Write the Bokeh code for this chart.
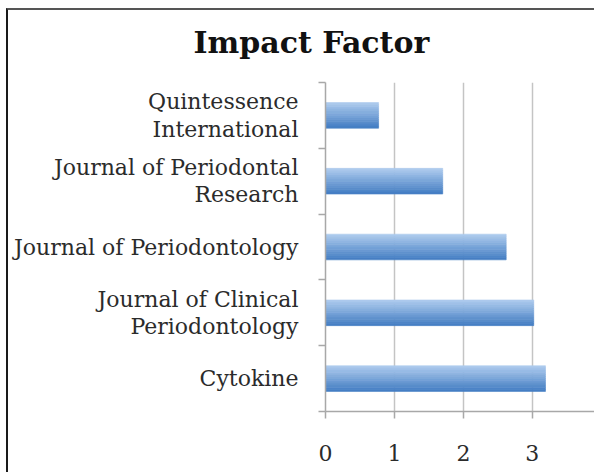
from bokeh.plotting import figure
from bokeh.models import FixedTicker, Range1d, Title
from bokeh.embed import file_html
from bokeh.resources import INLINE

# ---- data (bottom to top) ----
journals = ["Cytokine",
            "Journal of Clinical\nPeriodontology",
            "Journal of Periodontology",
            "Journal of Periodontal\nResearch",
            "Quintessence\nInternational"]
impact = [3.19, 3.02, 2.62, 1.70, 0.77]
x_ticks = [0, 1, 2, 3, 4]
title_text = "Impact Factor"

# ---- styles ----
FONT = "DejaVu Serif"
TXT = "#2b2b2b"

positions = [i + 0.5 for i in range(len(journals))]
boundaries = list(range(len(journals) + 1))

p = figure(width=588, height=464, x_range=Range1d(0, 3.93),
           y_range=Range1d(0, len(journals)), title=None,
           output_backend="svg", toolbar_location=None,
           min_border_left=317, min_border_right=0,
           min_border_top=71, min_border_bottom=63)
p.outline_line_color = None
p.background_fill_color = "white"
p.border_fill_color = "white"
p.styles = {"margin-left": "6px", "margin-top": "8px",
            "border-left": "2px solid #1a1a1a", "border-top": "2px solid #555555"}

# small spacer between the title and the plot area, then the title
p.add_layout(Title(text=" ", text_font_size="8px", standoff=0), "above")
p.add_layout(Title(text=title_text, align="left", offset=-132,
                   text_font=FONT, text_font_size="30px",
                   text_font_style="bold", text_color="#111111",
                   standoff=24), "above")

# gradient bars built from thin strips
N = 12
c_top = (172, 202, 237)
c_bot = (70, 127, 196)
bar_h = 0.39
for i in range(N):
    t = i / (N - 1)
    col = "#%02x%02x%02x" % tuple(int(round(a + (b - a) * t)) for a, b in zip(c_top, c_bot))
    off = bar_h / 2 - (i + 0.5) * bar_h / N
    p.hbar(y=[y + off for y in positions], left=0, right=impact,
           height=bar_h / N, fill_color=col, line_color=col, line_width=0.6)

# x axis
xa = p.xaxis[0]
xa.ticker = FixedTicker(ticks=x_ticks)
xa.axis_line_color = "#a8a8a8"
xa.axis_line_width = 1.5
xa.major_tick_line_color = "#a8a8a8"
xa.major_tick_line_width = 1.5
xa.major_tick_out = 7
xa.major_tick_in = 0
xa.minor_tick_line_color = None
xa.major_label_text_font = FONT
xa.major_label_text_font_size = "22px"
xa.major_label_text_color = TXT
xa.major_label_standoff = 26

# y axis: labels at category centres, ticks at category boundaries
ya = p.yaxis[0]
ya.ticker = FixedTicker(ticks=positions, minor_ticks=boundaries)
ya.major_label_overrides = {pos: name for pos, name in zip(positions, journals)}
ya.axis_line_color = "#a8a8a8"
ya.axis_line_width = 1.5
ya.major_tick_line_color = None
ya.major_tick_out = 0
ya.major_tick_in = 0
ya.minor_tick_line_color = "#a8a8a8"
ya.minor_tick_line_width = 1.5
ya.minor_tick_out = 7
ya.minor_tick_in = 0
ya.major_label_text_font = FONT
ya.major_label_text_font_size = "22px"
ya.major_label_text_color = TXT
ya.major_label_text_line_height = 1.1
ya.major_label_standoff = 20

p.ygrid.visible = False
p.xgrid.ticker = FixedTicker(ticks=x_ticks)
p.xgrid.grid_line_color = "#c4c4c4"
p.xgrid.grid_line_width = 1.5

open("out.html", "w").write(file_html(p, INLINE))
